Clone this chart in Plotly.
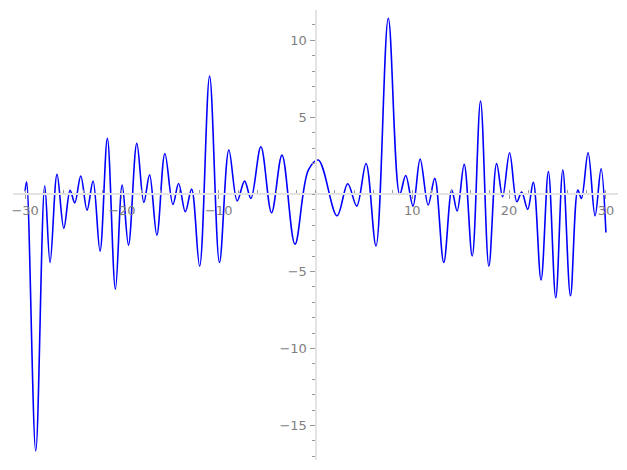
import plotly.graph_objects as go

# Key points (local extrema and shape points)
x_vals = [-30.0, -29.84, -28.9, -27.97, -27.42, -26.7, -26.0, -25.35, -24.87, -24.25,
          -23.6, -22.98, -22.26, -21.5, -20.67, -19.97, -19.32, -18.46, -17.73, -17.14,
          -16.39, -15.56, -14.73, -14.14, -13.45, -12.8, -11.97, -10.94, -9.92, -8.95,
          -8.09, -7.33, -6.67, -5.64, -4.54, -3.46, -2.12, -0.74, 0.29, 2.22,
          3.33, 4.26, 5.22, 6.25, 7.52, 8.7, 9.32, 10.07, 10.81, 11.64,
          12.32, 13.25, 14.08, 14.63, 15.36, 16.19, 17.05, 17.91, 18.71, 19.33,
          20.05, 20.8, 21.3, 21.92, 22.5, 23.3, 24.06, 24.82, 25.55, 26.34,
          27.1, 27.47, 28.16, 28.88, 29.5, 30.0]
y_vals = [0.2, 0.82, -16.65, 0.56, -4.42, 1.3, -2.2, 0.26, -0.55, 1.19,
          -1.02, 0.86, -3.68, 3.64, -6.15, 0.6, -3.29, 3.31, -0.52, 1.27,
          -2.64, 2.66, -0.65, 0.71, -1.13, 0.34, -4.66, 7.68, -4.42, 2.88,
          -0.42, 0.86, -0.26, 3.09, -1.19, 2.55, -3.23, 1.58, 2.23, -1.39,
          0.69, -0.76, 2.01, -3.34, 11.43, 0.0, 1.23, -0.76, 2.29, -0.69,
          1.04, -4.42, 0.28, -1.08, 1.95, -4.0, 6.06, -4.66, 2.01, -0.15,
          2.7, -0.48, 0.15, -0.97, 0.78, -5.56, 1.49, -6.71, 1.58, -6.58,
          0.28, -0.26, 2.7, -1.39, 1.66, -2.47]

x_ticks = [-30, -20, -10, 10, 20, 30]
x_tick_text = ["\u221230", "\u221220", "\u221210", "10", "20", "30"]
y_ticks = [-15, -10, -5, 5, 10]
y_tick_text = ["\u221215", "\u221210", "\u22125", "5", "10"]

x_range = [-31.25, 31.25]
y_range = [-17.24, 11.97]

fig = go.Figure()
fig.add_trace(go.Scatter(
    x=x_vals, y=y_vals, mode="lines",
    line=dict(color="#0000ff", width=1.6, shape="spline", smoothing=1.0),
    hoverinfo="skip", showlegend=False,
))

axis_font = dict(family="DejaVu Sans", size=13, color="#808080")
x_pos = (0 - y_range[0]) / (y_range[1] - y_range[0])
y_pos = (0 - x_range[0]) / (x_range[1] - x_range[0])

fig.update_layout(
    width=627, height=470,
    margin=dict(l=5, r=17, t=2, b=18, autoexpand=False),
    paper_bgcolor="white", plot_bgcolor="white",
    xaxis=dict(
        range=x_range, anchor="free", position=x_pos,
        showgrid=False, zeroline=False,
        showline=True, linecolor="#e3e3e3", linewidth=2,
        tickmode="array", tickvals=x_ticks, ticktext=x_tick_text,
        ticks="outside", ticklen=4, tickcolor="#999999", tickwidth=1,
        tickfont=axis_font,
        minor=dict(dtick=2, ticks="inside", ticklen=3, tickcolor="#999999", tickwidth=1, showgrid=False),
        automargin=False,
    ),
    yaxis=dict(
        range=y_range, anchor="free", position=y_pos,
        showgrid=False, zeroline=False,
        showline=True, linecolor="#e3e3e3", linewidth=2,
        tickmode="array", tickvals=y_ticks, ticktext=y_tick_text,
        ticks="outside", ticklen=5, tickcolor="#999999", tickwidth=1,
        tickfont=axis_font,
        minor=dict(dtick=1, ticks="outside", ticklen=3, tickcolor="#999999", tickwidth=1, showgrid=False),
        automargin=False,
    ),
)

fig.write_html("out.html")
